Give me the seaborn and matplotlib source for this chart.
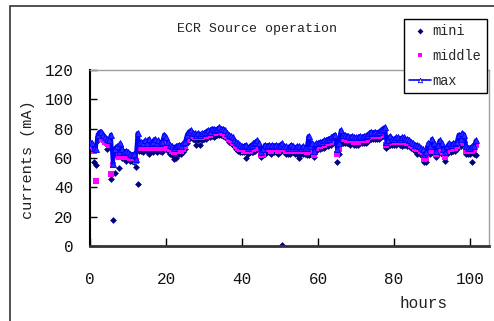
import numpy as np
import matplotlib
matplotlib.use("Agg")
import matplotlib.pyplot as plt
import seaborn as sns
from matplotlib.lines import Line2D
from matplotlib.patches import Rectangle

hours = np.arange(0, 102, 0.5)

max_vals = [
    71, 70, 67, 66, 76, 78, 78, 76, 74, 73, 72, 76, 56, 66, 68, 64, 70, 66, 64, 65,
    64, 63, 62, 63, 59, 77, 70, 71, 70, 72, 70, 73, 70, 71, 73, 70, 72, 70, 71, 76,
    74, 71, 69, 68, 67, 68, 68, 69, 68, 70, 71, 76, 78, 79, 77, 77, 76, 77, 76, 77,
    77, 78, 79, 78, 80, 80, 79, 80, 81, 80, 80, 79, 77, 76, 75, 74, 72, 71, 70, 69,
    68, 68, 69, 67, 68, 69, 70, 71, 72, 70, 64, 66, 69, 68, 69, 68, 69, 68, 69, 68,
    69, 70, 68, 68, 67, 68, 69, 68, 67, 68, 68, 67, 68, 67, 67, 75, 68, 70, 65, 70,
    70, 71, 71, 72, 72, 73, 73, 74, 75, 76, 66, 70, 79, 76, 76, 75, 75, 74, 75, 74,
    74, 74, 75, 74, 75, 75, 76, 77, 78, 77, 78, 77, 78, 79, 80, 81, 71, 72, 75, 73,
    73, 74, 74, 73, 74, 74, 73, 73, 72, 71, 70, 69, 69, 68, 67, 66, 63, 64, 70, 68,
    73, 70, 65, 69, 72, 70, 66, 64, 68, 70, 69, 70, 70, 71, 76, 73, 77, 76, 68, 67,
    67, 68, 68, 72,
]

middle_vals = [
    69, 68, 65, 44, 73, 75, 75, 73, 71, 70, 69, 49, 55, 62, 64, 61, 66, 62, 61, 61,
    61, 60, 60, 60, 58, 70, 67, 67, 67, 68, 67, 68, 67, 67, 68, 67, 68, 67, 67, 71,
    70, 67, 66, 65, 64, 65, 65, 65, 65, 66, 68, 72, 75, 76, 75, 74, 74, 74, 74, 74,
    75, 75, 76, 76, 77, 77, 77, 78, 78, 78, 77, 76, 75, 73, 72, 71, 70, 68, 67, 66,
    66, 65, 66, 65, 65, 66, 66, 67, 68, 67, 62, 63, 66, 66, 66, 65, 66, 66, 66, 65,
    66, 67, 66, 65, 65, 65, 66, 66, 65, 65, 65, 65, 65, 65, 64, 70, 65, 66, 62, 67,
    68, 68, 69, 69, 70, 70, 71, 71, 72, 73, 63, 66, 75, 73, 73, 72, 72, 72, 72, 71,
    71, 71, 72, 72, 72, 72, 73, 74, 75, 75, 75, 75, 75, 76, 77, 78, 69, 70, 71, 71,
    71, 71, 72, 71, 71, 71, 71, 70, 70, 69, 68, 67, 66, 66, 65, 64, 59, 60, 66, 65,
    69, 67, 63, 65, 68, 67, 64, 61, 65, 67, 66, 67, 67, 68, 72, 70, 74, 73, 65, 65,
    65, 65, 66, 69,
]

mini_vals = [
    67, 66, 57, 55, 72, 74, 73, 72, 70, 66, 68, 46, 18, 50, 62, 53, 64, 60, 60, 58,
    59, 58, 58, 57, 54, 42, 65, 65, 64, 66, 65, 63, 65, 64, 66, 64, 65, 65, 64, 68,
    67, 65, 63, 62, 59, 60, 63, 63, 63, 64, 66, 70, 73, 74, 73, 72, 69, 72, 69, 72,
    73, 73, 74, 74, 75, 74, 75, 76, 76, 76, 75, 74, 73, 71, 70, 69, 68, 66, 65, 64,
    64, 64, 60, 63, 64, 64, 64, 65, 66, 65, 61, 62, 63, 64, 64, 63, 64, 64, 64, 63,
    64, 1, 64, 63, 63, 63, 64, 64, 63, 63, 60, 63, 63, 63, 62, 62, 63, 64, 61, 65,
    66, 66, 67, 67, 68, 68, 69, 69, 70, 71, 57, 63, 72, 70, 70, 70, 70, 69, 70, 69,
    69, 69, 70, 70, 70, 70, 71, 72, 73, 73, 73, 73, 73, 74, 75, 76, 67, 68, 69, 69,
    69, 69, 70, 69, 68, 69, 69, 68, 68, 67, 66, 65, 63, 64, 62, 62, 57, 57, 63, 63,
    65, 63, 61, 63, 66, 63, 62, 58, 63, 65, 64, 65, 65, 66, 70, 68, 72, 71, 63, 63,
    63, 57, 63, 62,
]

x_ticks = [0, 20, 40, 60, 80, 100]
y_ticks = [0, 20, 40, 60, 80, 100, 120]

sns.set_theme(style="white")
plt.rcParams['font.family'] = ['Liberation Mono', 'DejaVu Sans']

fig = plt.figure(figsize=(4.94, 3.21), dpi=100)
fig.patch.set_facecolor('white')
ax = fig.add_axes([90/494, 75/321, 399/494, 176/321])
ax.set_facecolor('white')

navy = '#000080'
magenta = '#FF00FF'
blue = '#0000FF'

sns.scatterplot(x=hours, y=mini_vals, ax=ax, color=navy, marker='D', s=12,
                linewidth=0, zorder=2, legend=False)
sns.scatterplot(x=hours, y=middle_vals, ax=ax, color=magenta, marker='s', s=13,
                linewidth=0, zorder=3, legend=False)
sns.lineplot(x=hours, y=max_vals, ax=ax, color=blue, linewidth=2.8, marker='^',
             markersize=3.8, markerfacecolor='#2A2AFF', markeredgecolor=blue,
             markeredgewidth=0.6, estimator=None, sort=False, zorder=4, legend=False)

ax.set_xlim(0, 105)
ax.set_ylim(0, 120)
ax.set_xticks(x_ticks)
ax.set_yticks(y_ticks)
ax.set_xticklabels([str(v) for v in x_ticks], fontsize=11.5)
ax.set_yticklabels([str(v) for v in y_ticks], fontsize=11.5)
ax.tick_params(axis='x', direction='in', length=6, width=1, pad=19, colors='black', bottom=True)
ax.tick_params(axis='y', direction='in', length=5, width=1, pad=12, colors='black', left=True)
for t in ax.get_xticklabels() + ax.get_yticklabels():
    t.set_color('#111111')
ax.set_xlabel('')
ax.set_ylabel('')
ax.grid(False)

for side in ['top', 'right']:
    ax.spines[side].set_color('#A0A0A0')
    ax.spines[side].set_linewidth(1.0)
ax.spines['left'].set_color('black')
ax.spines['left'].set_linewidth(1.5)
ax.spines['bottom'].set_color('#333333')
ax.spines['bottom'].set_linewidth(2.0)

# outer chart frame
fig.patches.append(Rectangle((10/494, -0.2), 1.2, 1.2 - 6/321,
                             transform=fig.transFigure, fill=False,
                             edgecolor='#333333', linewidth=1.2, zorder=0))

fig.text(257/494, 1 - 29/321, 'ECR Source operation', ha='center', va='center',
         fontsize=9.5, color='#222222')
fig.text(28/494, 1 - 160/321, 'currents (mA)', rotation=90, ha='center', va='center',
         fontsize=11, color='#222222')
fig.text(424/494, 1 - 303/321, 'hours', ha='center', va='center',
         fontsize=11.5, color='#222222')

handles = [
    Line2D([], [], color=navy, marker='D', linestyle='none', markersize=3, markeredgewidth=0),
    Line2D([], [], color=magenta, marker='s', linestyle='none', markersize=3.5, markeredgewidth=0),
    Line2D([], [], color=blue, marker='^', linestyle='-', linewidth=1.2, markersize=3.2,
           markerfacecolor='#FFFF80', markeredgecolor=blue, markeredgewidth=0.6),
]
leg = fig.legend(handles, ['mini', 'middle', 'max'],
                 loc='upper left', bbox_to_anchor=(404/494, 1 - 19/321),
                 frameon=True, fancybox=False, fontsize=9.8, handlelength=1.6,
                 handletextpad=0.1, labelspacing=0.78, borderpad=0.4,
                 borderaxespad=0.0)
leg.get_frame().set_edgecolor('black')
leg.get_frame().set_linewidth(1.0)
leg.get_frame().set_facecolor('white')
leg.get_frame().set_alpha(1.0)

fig.savefig('out.png', dpi=100, facecolor='white')
